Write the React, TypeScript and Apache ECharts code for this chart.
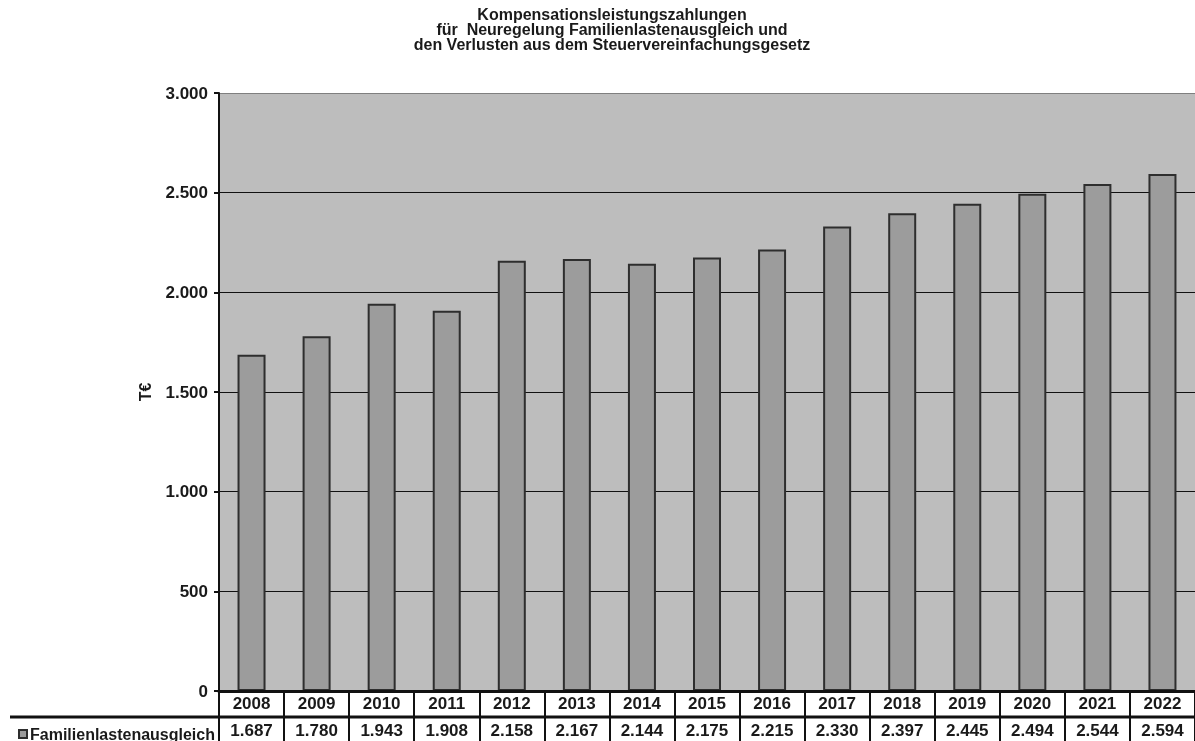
import React, { useEffect, useRef } from "react";
import * as echarts from "echarts";

const years = ["2008", "2009", "2010", "2011", "2012", "2013", "2014", "2015", "2016", "2017", "2018", "2019", "2020", "2021", "2022"];
const values = [1687, 1780, 1943, 1908, 2158, 2167, 2144, 2175, 2215, 2330, 2397, 2445, 2494, 2544, 2594];
const seriesName = "Familienlastenausgleich";
const titleLines = [
  "Kompensationsleistungszahlungen",
  "für  Neuregelung Familienlastenausgleich und",
  "den Verlusten aus dem Steuervereinfachungsgesetz",
];
const yName = "T€";

const fmt = (v: number) => {
  if (v < 1000) return String(v);
  return Math.floor(v / 1000) + "." + String(v % 1000).padStart(3, "0");
};

const FONT = "Liberation Sans, Arial, sans-serif";

export default function App() {
  const ref = useRef<HTMLDivElement>(null);
  useEffect(() => {
    if (!ref.current) return;
    const chart = echarts.init(ref.current, null, { renderer: "svg" });
    chart.setOption({
      animation: false,
      textStyle: { fontFamily: FONT },
      title: {
        text: titleLines.join("\n"),
        left: 607,
        top: 2,
        textAlign: "center",
        textStyle: { fontSize: 16, fontWeight: "bold", lineHeight: 15, color: "#1a1a1a", fontFamily: FONT },
      },
      legend: {
        left: 13,
        top: 721,
        icon: "rect",
        itemWidth: 8,
        itemHeight: 8,
        itemGap: 4,
        textStyle: { fontSize: 16, fontWeight: "bold", color: "#1a1a1a", fontFamily: FONT, padding: [0, 0, 0, -2] },
        data: [seriesName],
      },
      grid: {
        left: 219,
        right: -16,
        top: 93,
        bottom: 50,
        show: true,
        backgroundColor: "#bdbdbd",
        borderWidth: 0,
      },
      xAxis: [
        {
          type: "category",
          data: years,
          position: "bottom",
          axisLine: { show: true, lineStyle: { color: "#111", width: 3 } },
          axisTick: {
            show: true,
            inside: false,
            length: 50,
            lineStyle: { color: "#111", width: 2 },
          },
          axisLabel: { margin: 4, fontSize: 17, fontWeight: "bold", color: "#1a1a1a", fontFamily: FONT },
          splitLine: { show: false },
          z: 5,
        },
        {
          type: "category",
          data: values.map(fmt),
          position: "bottom",
          offset: 26,
          axisLine: { show: false },
          axisTick: { show: false },
          axisLabel: { margin: 5, fontSize: 17, fontWeight: "bold", color: "#1a1a1a", fontFamily: FONT },
        },
      ],
      yAxis: {
        type: "value",
        min: 0,
        max: 3000,
        interval: 500,
        name: yName,
        nameLocation: "middle",
        nameGap: 66,
        nameRotate: 90,
        nameTextStyle: { fontSize: 16, fontWeight: "bold", color: "#1a1a1a", fontFamily: FONT },
        axisLine: { show: true, lineStyle: { color: "#111", width: 2 } },
        axisTick: { show: true, inside: false, length: 5, lineStyle: { color: "#111", width: 2 } },
        axisLabel: { margin: 11, fontSize: 17, fontWeight: "bold", color: "#1a1a1a", fontFamily: FONT, formatter: (v: number) => fmt(v) },
        splitLine: {
          show: true,
          lineStyle: { color: ["#111", "#111", "#111", "#111", "#111", "#111", "#7f7f7f"], width: 1 },
        },
      },
      graphic: [
        {
          type: "line",
          shape: { x1: 10, y1: 717, x2: 1195, y2: 717 },
          style: { stroke: "#111", lineWidth: 3 },
          z: 10,
        },
      ],
      series: [
        {
          name: seriesName,
          type: "bar",
          xAxisIndex: 0,
          data: values,
          barWidth: 28,
          itemStyle: { color: "#9c9c9c", borderColor: "#2e2e2e", borderWidth: 2 },
        },
      ],
    });
    return () => chart.dispose();
  }, []);
  return <div ref={ref} style={{ position: "fixed", left: 0, top: 0, width: 1195, height: 741 }} />;
}
